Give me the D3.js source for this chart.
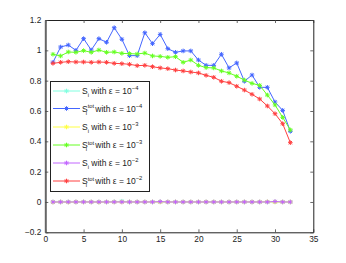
<!DOCTYPE html>
<html>
<head>
<meta charset="utf-8">
<script src="https://cdn.jsdelivr.net/npm/d3@7.9.0/dist/d3.min.js"></script>
<style>
  body { margin: 0; background: #fff; }
  svg text { font-family: "Liberation Sans", Arial, sans-serif; fill: #222; }
</style>
</head>
<body>
<svg id="chart" width="346" height="263"></svg>
<script>
// x positions 1..32
const idx = d3.range(1, 33);

// S_i^tot values
const stot4 = [0.921, 1.022, 1.035, 1.000, 1.077, 1.002, 1.077, 1.053, 1.149, 1.073,
  0.965, 0.965, 1.116, 1.044, 1.105, 1.011, 0.987, 0.996, 0.996, 0.936,
  0.901, 0.901, 0.974, 0.884, 0.917, 0.796, 0.837, 0.756, 0.756, 0.659, 0.604, 0.466];
const stot3 = [0.974, 0.963, 0.989, 0.987, 0.998, 0.987, 1.002, 0.987, 0.989, 0.980,
  0.978, 0.976, 0.982, 0.963, 0.960, 0.954, 0.958, 0.921, 0.936, 0.901,
  0.886, 0.884, 0.864, 0.851, 0.829, 0.804, 0.782, 0.769, 0.705, 0.640, 0.558, 0.475];
const stot2 = [0.914, 0.921, 0.925, 0.923, 0.923, 0.921, 0.923, 0.921, 0.914, 0.912,
  0.908, 0.899, 0.901, 0.892, 0.884, 0.879, 0.870, 0.864, 0.857, 0.851,
  0.835, 0.822, 0.796, 0.787, 0.763, 0.738, 0.710, 0.679, 0.633, 0.582, 0.516, 0.391];
// first order indices, all about zero
const s4 = [0.000, 0.000, 0.000, 0.000, 0.001, 0.000, 0.000, 0.000, 0.001, 0.005,
  0.000, 0.000, 0.000, 0.000, 0.001, 0.000, 0.000, 0.000, 0.000, 0.000,
  0.000, 0.000, 0.000, 0.000, 0.000, 0.000, 0.000, 0.000, 0.000, 0.001, 0.000, 0.000];
const s3 = [-0.001, 0.000, -0.001, 0.000, 0.000, 0.000, -0.001, 0.000, 0.000, 0.000,
  0.000, 0.000, 0.000, 0.000, 0.000, 0.000, 0.000, 0.000, 0.000, 0.000,
  0.000, 0.000, 0.000, 0.000, 0.000, 0.000, 0.000, 0.000, 0.001, 0.000, 0.000, 0.000];
const s2 = [0.000, 0.000, 0.000, 0.000, 0.000, 0.000, 0.000, 0.000, 0.000, 0.000,
  0.000, 0.000, 0.000, 0.000, 0.002, 0.000, 0.000, 0.000, 0.000, 0.000,
  0.000, 0.000, 0.000, 0.000, 0.000, 0.000, 0.000, 0.000, 0.000, 0.003, 0.000, 0.000];

const seriesNames = ["S4", "Stot4", "S3", "Stot3", "S2", "Stot2"];
const seriesColors = ["#80ffe0", "#4466ff", "#ffff44", "#66ff22", "#c266ff", "#ff4040"];
const seriesExp = ["\u22124", "\u22124", "\u22123", "\u22123", "\u22122", "\u22122"];
const seriesTot = [false, true, false, true, false, true];
const seriesVals = [s4, stot4, s3, stot3, s2, stot2];

const xTicks = [0, 5, 10, 15, 20, 25, 30, 35];
const yTicks = [-0.2, 0, 0.2, 0.4, 0.6, 0.8, 1, 1.2];

const svg = d3.select("#chart");
const L = 45.3, R = 313.3, T = 20, B = 232.3;

const x = d3.scaleLinear().domain([0, 35]).range([L, R]);
const y = d3.scaleLinear().domain([-0.2, 1.2]).range([B, T]);

svg.append("rect").attr("x", L).attr("y", T).attr("width", R - L).attr("height", B - T)
  .attr("fill", "#fff");

// axes with inward ticks on all four sides
const fmt = d => (d < 0 ? "\u2212" + Math.abs(d) : String(d));
const axB = svg.append("g").attr("transform", `translate(0,${B})`)
  .call(d3.axisBottom(x).tickValues(xTicks).tickSizeInner(-3).tickSizeOuter(0).tickPadding(4).tickFormat(fmt));
const axT = svg.append("g").attr("transform", `translate(0,${T})`)
  .call(d3.axisTop(x).tickValues(xTicks).tickSizeInner(-3).tickSizeOuter(0).tickFormat(""));
const axL = svg.append("g").attr("transform", `translate(${L},0)`)
  .call(d3.axisLeft(y).tickValues(yTicks).tickSizeInner(-3).tickSizeOuter(0).tickPadding(4).tickFormat(fmt));
const axR = svg.append("g").attr("transform", `translate(${R},0)`)
  .call(d3.axisRight(y).tickValues(yTicks).tickSizeInner(-3).tickSizeOuter(0).tickFormat(""));

[axB, axT, axL, axR].forEach(a => {
  a.select(".domain").attr("stroke", "#222").attr("stroke-width", 1);
  a.selectAll(".tick line").attr("stroke", "#444").attr("stroke-width", 0.8);
  a.selectAll("text").attr("font-size", 8.3).attr("fill", "#222");
});
axL.select(".domain").attr("stroke", "#666").attr("stroke-width", 2);

// asterisk marker
const star = r => {
  const d = r * 0.72;
  return `M${-r},0H${r}M0,${-r}V${r}M${-d},${-d}L${d},${d}M${-d},${d}L${d},${-d}`;
};

const line = d3.line().x((d, i) => x(idx[i])).y(d => y(d));

seriesVals.forEach((vals, k) => {
  const g = svg.append("g");
  g.append("path").attr("d", line(vals)).attr("fill", "none")
    .attr("stroke", seriesColors[k]).attr("stroke-width", 1);
  g.selectAll("path.m").data(vals).join("path").attr("class", "m")
    .attr("transform", (d, i) => `translate(${x(idx[i])},${y(d)})`)
    .attr("d", star(2.3)).attr("fill", "none")
    .attr("stroke", seriesColors[k]).attr("stroke-width", 1);
});

// legend
const lg = svg.append("g");
lg.append("rect").attr("x", 50.5).attr("y", 81.5).attr("width", 99).attr("height", 110)
  .attr("fill", "#fff").attr("stroke", "#222").attr("stroke-width", 1);
const rowY = [91, 108.5, 127, 145, 163, 181];
seriesNames.forEach((n, k) => {
  const yy = rowY[k];
  lg.append("line").attr("x1", 53).attr("x2", 80).attr("y1", yy).attr("y2", yy)
    .attr("stroke", seriesColors[k]).attr("stroke-width", 1);
  lg.append("path").attr("transform", `translate(66.5,${yy})`).attr("d", star(2.3))
    .attr("fill", "none").attr("stroke", seriesColors[k]).attr("stroke-width", 1);
  const t = lg.append("text").attr("x", 82).attr("y", yy + 3).attr("font-size", 8.5);
  t.append("tspan").text("S");
  if (seriesTot[k]) {
    t.append("tspan").attr("font-size", 5.8).attr("dy", -3.5).text("tot");
    t.append("tspan").attr("font-size", 5.8).attr("dx", -8.5).attr("dy", 6.5).text("i");
    t.append("tspan").attr("dy", -3).attr("dx", 6).text(" with \u03b5 =  10");
  } else {
    t.append("tspan").attr("font-size", 5.8).attr("dy", 3).text("i");
    t.append("tspan").attr("dy", -3).text(" with \u03b5 =  10");
  }
  t.append("tspan").attr("font-size", 5.8).attr("dy", -4).text(seriesExp[k]);
});
</script>
</body>
</html>
